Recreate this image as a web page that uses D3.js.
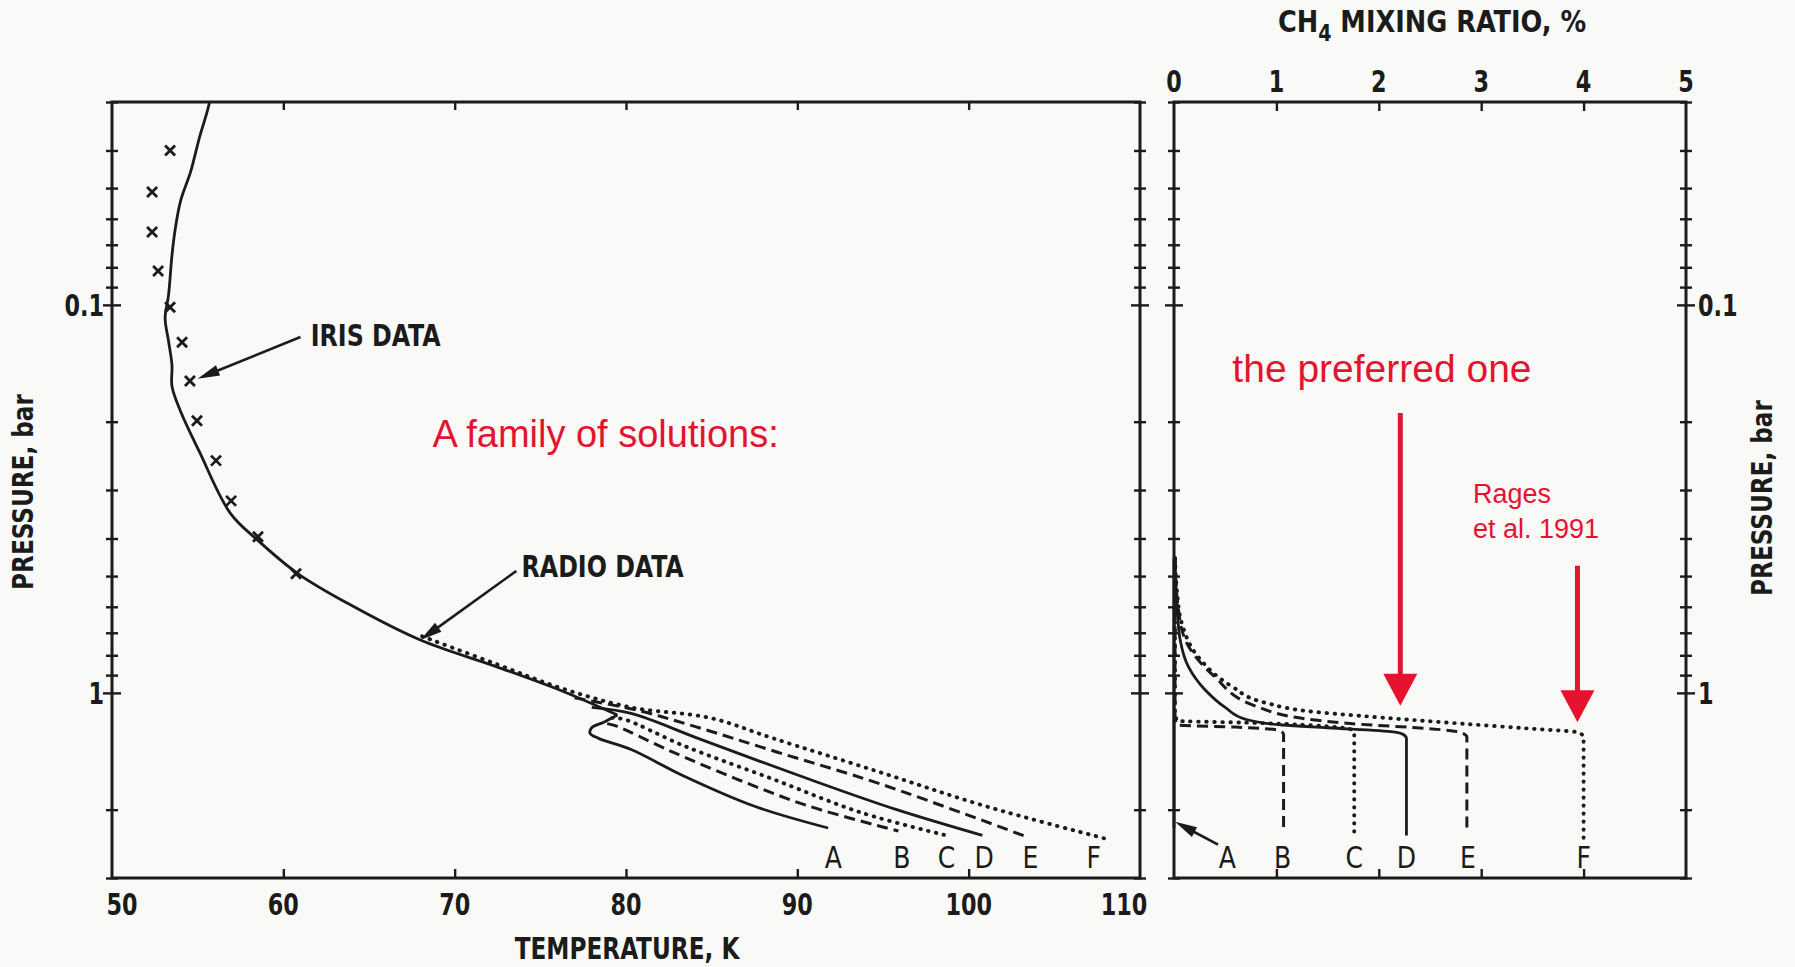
<!DOCTYPE html>
<html>
<head>
<meta charset="utf-8">
<script src="https://cdn.jsdelivr.net/npm/d3@7"></script>
<style>
  html, body { margin: 0; padding: 0; background: #f9f9f7; }
  svg { display: block; }
  .lbl { font-family: "DejaVu Sans Condensed", "DejaVu Sans", sans-serif; fill: #1b1b1b; }
  .red { font-family: "Liberation Sans", Arial, sans-serif; fill: #e5132f; }
  .tick line { stroke: #1b1b1b; stroke-width: 2.4; }
  .domain { display: none; }
</style>
</head>
<body>
<div id="chart"></div>
<script>
// Temperature profile (T in K, pressure in bar) shared by all solutions
const baseProfile = [
  [55.7, 0.030], [55.5, 0.0324], [55.1, 0.0371], [54.6, 0.0452], [54.0, 0.054],
  [53.7, 0.0634], [53.5, 0.0745], [53.3, 0.0944], [53.1, 0.108], [53.3, 0.124],
  [53.5, 0.143], [53.5, 0.162], [54.0, 0.188], [55.1, 0.239], [56.9, 0.344],
  [58.5, 0.404], [60.8, 0.491], [63.7, 0.586], [68.0, 0.731], [72.5, 0.858],
  [76.3, 0.99], [79.5, 1.14]
];

// deep branches of the temperature profiles A-F
const tempA = [[79.5, 1.14], [78.7, 1.19], [78.0, 1.23], [77.9, 1.27], [78.4, 1.31], [80.3, 1.40], [83.4, 1.64], [87.5, 1.96], [91.8, 2.23]];
const tempB = [[78.9, 1.20], [79.5, 1.22], [82.4, 1.40], [86.5, 1.67], [90.7, 1.96], [95.9, 2.27]];
const tempC = [[79.2, 1.16], [79.9, 1.17], [83.4, 1.37], [88.6, 1.67], [93.8, 2.04], [98.7, 2.33]];
const tempD = [[78.0, 1.09], [80.3, 1.13], [84.4, 1.32], [90.7, 1.67], [95.8, 2.00], [100.8, 2.33]];
const tempE = [[77.0, 1.03], [80.7, 1.11], [84.0, 1.22], [88.8, 1.42], [94.9, 1.72], [103.4, 2.35]];
const tempF = [[68.1, 0.715], [72.5, 0.845], [76.3, 0.975], [80.3, 1.09], [84.9, 1.16], [88.6, 1.31], [94.8, 1.60], [101.0, 1.96], [107.9, 2.37]];

// IRIS data points
const irisT = [53.39, 52.34, 52.34, 52.69, 53.39, 54.09, 54.55, 54.96, 56.07, 56.95, 58.52, 60.74];
const irisP = [0.0400, 0.0512, 0.0649, 0.0818, 0.1014, 0.1248, 0.157, 0.199, 0.252, 0.320, 0.396, 0.493];

// CH4 mixing ratio profiles (% , bar)
const mixA = [[0.0, 0.45], [0.0, 2.23]];
const mixB = [[0.01, 0.45], [0.01, 1.15], [0.03, 1.21], [0.6, 1.225], [1.03, 1.25], [1.07, 1.28], [1.07, 2.27]];
const mixC = [[0.01, 0.45], [0.01, 1.12], [0.03, 1.18], [0.8, 1.195], [1.5, 1.22], [1.72, 1.24], [1.76, 1.27], [1.76, 2.33]];
const mixD = [[0.01, 0.45], [0.03, 0.60], [0.06, 0.73], [0.14, 0.856], [0.30, 0.98], [0.50, 1.09], [0.70, 1.17], [1.06, 1.21], [1.5, 1.23], [2.14, 1.26], [2.24, 1.28], [2.27, 1.31], [2.27, 2.33]];
const mixE = [[0.01, 0.45], [0.04, 0.60], [0.11, 0.73], [0.40, 0.91], [0.79, 1.08], [1.38, 1.175], [1.82, 1.205], [2.47, 1.235], [2.80, 1.265], [2.86, 1.30], [2.86, 2.30]];
const mixF = [[0.01, 0.45], [0.03, 0.55], [0.075, 0.66], [0.24, 0.81], [0.56, 0.96], [0.89, 1.06], [1.38, 1.12], [1.80, 1.145], [2.80, 1.20], [3.45, 1.235], [3.95, 1.265], [4.0, 1.30], [4.0, 2.37]];

const curveNames = ['A', 'B', 'C', 'D', 'E', 'F'];
const curveStyles = ['solid', 'dashed', 'dotted', 'solid', 'dashed', 'dotted'];
const tempLabelT = [92.1, 96.1, 98.7, 100.9, 103.6, 107.3];
const mixLabelX = [0.52, 1.06, 1.76, 2.27, 2.87, 4.0];

const tempTicks = [50, 60, 70, 80, 90, 100, 110];
const mixTicks = [0, 1, 2, 3, 4, 5];
const pressureLabels = [0.1, 1];
const pressureMinor = [0.03, 0.04, 0.05, 0.06, 0.07, 0.08, 0.09, 0.2, 0.3, 0.4, 0.5, 0.6, 0.7, 0.8, 0.9, 2, 3];

const width = 1795, height = 967;
const svg = d3.select('#chart').append('svg').attr('width', width).attr('height', height);

// scales
const xT = d3.scaleLinear().domain([50, 110]).range([112, 1140]);
const xM = d3.scaleLinear().domain([0, 5]).range([1174, 1686]);
const yP = d3.scaleLog().domain([0.03, 3]).range([102, 878]);
const yTop = yP.range()[0], yBottom = yP.range()[1];

function styleLine(sel, style) {
  sel.attr('fill', 'none').attr('stroke', '#1b1b1b').attr('stroke-linejoin', 'round');
  if (style === 'solid') sel.attr('stroke-width', 2.8);
  if (style === 'dashed') sel.attr('stroke-width', 3).attr('stroke-dasharray', '11 6');
  if (style === 'dotted') sel.attr('stroke-width', 3.9).attr('stroke-dasharray', '0.5 7.5').attr('stroke-linecap', 'round');
}

// narrow black label (the scan uses a condensed typeface)
function label(x, y, str, size, opt = {}) {
  const t = svg.append('text').attr('class', 'lbl')
    .attr('transform', `translate(${x},${y}) rotate(${opt.rotate || 0}) scale(${opt.sx || 0.84},1)`)
    .attr('text-anchor', opt.anchor || 'start')
    .attr('font-size', size)
    .attr('font-weight', opt.weight || 'bold');
  if (str !== null) t.text(str);
  return t;
}

// pressure axis with ticks crossing the frame line
function pressureAxis(x) {
  const g = svg.append('g');
  g.append('g').attr('transform', `translate(${x},0)`)
    .call(d3.axisLeft(yP).tickValues(pressureMinor).tickSize(6).tickFormat(''));
  g.append('g').attr('transform', `translate(${x},0)`)
    .call(d3.axisRight(yP).tickValues(pressureMinor).tickSize(6).tickFormat(''));
  g.append('g').attr('transform', `translate(${x},0)`)
    .call(d3.axisLeft(yP).tickValues(pressureLabels).tickSize(9).tickFormat(''));
  g.append('g').attr('transform', `translate(${x},0)`)
    .call(d3.axisRight(yP).tickValues(pressureLabels).tickSize(9).tickFormat(''));
}

// ---------- left panel: temperature ----------
pressureAxis(xT.range()[0]);
pressureAxis(xT.range()[1]);

svg.append('g').attr('transform', `translate(0,${yBottom})`)
  .call(d3.axisTop(xT).tickValues(tempTicks.slice(1, -1)).tickSize(9).tickFormat(''));
svg.append('g').attr('transform', `translate(0,${yTop})`)
  .call(d3.axisBottom(xT).tickValues(tempTicks.slice(1, -1)).tickSize(8).tickFormat(''));

svg.append('rect')
  .attr('x', xT.range()[0]).attr('y', yTop)
  .attr('width', xT.range()[1] - xT.range()[0]).attr('height', yBottom - yTop)
  .attr('fill', 'none').attr('stroke', '#1b1b1b').attr('stroke-width', 3);

tempTicks.forEach((d, i) => {
  const off = i === 0 ? 10 : i === tempTicks.length - 1 ? -16 : 0;
  label(xT(d) + off, 915, d, 31, { anchor: 'middle', sx: 0.8 });
});
pressureLabels.forEach(d => label(xT.range()[0] - 8, yP(d) + 11, d, 31, { anchor: 'end', sx: 0.8 }));

const lineT = d3.line().x(d => xT(d[0])).y(d => yP(d[1])).curve(d3.curveCatmullRom.alpha(0.5));
const lineM = d3.line().x(d => xM(d[0])).y(d => yP(d[1])).curve(d3.curveMonotoneY);

svg.append('path').datum(baseProfile).attr('d', lineT).call(styleLine, 'solid');
[tempA, tempB, tempC, tempD, tempE, tempF].forEach((pts, i) => {
  svg.append('path').datum(pts).attr('d', lineT).call(styleLine, curveStyles[i]);
});

// IRIS crosses
const crosses = svg.append('g').attr('stroke', '#1b1b1b').attr('stroke-width', 2.8);
irisT.forEach((t, i) => {
  const cx = xT(t), cy = yP(irisP[i]);
  crosses.append('path').attr('d', `M${cx - 5},${cy - 5}L${cx + 5},${cy + 5}M${cx - 5},${cy + 5}L${cx + 5},${cy - 5}`);
});

curveNames.forEach((d, i) => label(xT(tempLabelT[i]), 868, d, 31, { anchor: 'middle', weight: 'normal', sx: 0.9 }));

// black annotation arrows
function blackArrow(x1, y1, x2, y2) {
  const a = Math.atan2(y2 - y1, x2 - x1), L = 22, W = 5.5;
  svg.append('line').attr('x1', x1).attr('y1', y1)
    .attr('x2', x2 - Math.cos(a) * L * 0.6).attr('y2', y2 - Math.sin(a) * L * 0.6)
    .attr('stroke', '#1b1b1b').attr('stroke-width', 2.6);
  const bx = x2 - Math.cos(a) * L, by = y2 - Math.sin(a) * L;
  svg.append('path')
    .attr('d', `M${x2},${y2}L${bx - Math.sin(a) * W},${by + Math.cos(a) * W}L${bx + Math.sin(a) * W},${by - Math.cos(a) * W}Z`)
    .attr('fill', '#1b1b1b');
}
blackArrow(xT(61.0), yP(0.121), xT(55.0), yP(0.155));
blackArrow(xT(73.6), yP(0.485), xT(68.0), yP(0.731));

label(xT(61.6), yP(0.128), 'IRIS DATA', 30, { sx: 0.88 });
label(xT(73.9), yP(0.502), 'RADIO DATA', 30, { sx: 0.88 });
label(627, 959, 'TEMPERATURE, K', 30, { anchor: 'middle', sx: 0.86 });
label(33, 492, 'PRESSURE, bar', 28, { anchor: 'middle', rotate: -90, sx: 0.92 });

// ---------- right panel: CH4 mixing ratio ----------
pressureAxis(xM.range()[0]);
pressureAxis(xM.range()[1]);

svg.append('g').attr('transform', `translate(0,${yBottom})`)
  .call(d3.axisTop(xM).tickValues(mixTicks.slice(1, -1)).tickSize(9).tickFormat(''));
svg.append('g').attr('transform', `translate(0,${yTop})`)
  .call(d3.axisBottom(xM).tickValues(mixTicks.slice(1, -1)).tickSize(9).tickFormat(''));

svg.append('rect')
  .attr('x', xM.range()[0]).attr('y', yTop)
  .attr('width', xM.range()[1] - xM.range()[0]).attr('height', yBottom - yTop)
  .attr('fill', 'none').attr('stroke', '#1b1b1b').attr('stroke-width', 3);

mixTicks.forEach(d => label(xM(d), 92, d, 31, { anchor: 'middle', sx: 0.8 }));
pressureLabels.forEach(d => label(xM.range()[1] + 12, yP(d) + 11, d, 31, { sx: 0.8 }));

[mixA, mixB, mixC, mixD, mixE, mixF].forEach((pts, i) => {
  svg.append('path').datum(pts).attr('d', lineM).call(styleLine, curveStyles[i]);
});

curveNames.forEach((d, i) => label(xM(mixLabelX[i]), 868, d, 31, { anchor: 'middle', weight: 'normal', sx: 0.9 }));

blackArrow(xM(0.43), yP(2.46), xM(0.01), yP(2.15));

const ch4 = label(1432, 32, null, 31, { anchor: 'middle', sx: 0.92 });
ch4.append('tspan').text('CH');
ch4.append('tspan').attr('dy', 9).attr('font-size', 23).text('4');
ch4.append('tspan').attr('dy', -9).text(' MIXING RATIO, %');

label(1772, 498, 'PRESSURE, bar', 28, { anchor: 'middle', rotate: -90, sx: 0.92 });

// ---------- red annotations ----------
function redArrow(x, p1, p2) {
  const y1 = yP(p1), y2 = yP(p2), X = xM(x);
  svg.append('line').attr('x1', X).attr('y1', y1).attr('x2', X).attr('y2', y2 - 28)
    .attr('stroke', '#e5132f').attr('stroke-width', 5);
  svg.append('path').attr('d', `M${X - 17},${y2 - 32}L${X + 17},${y2 - 32}L${X},${y2}Z`).attr('fill', '#e5132f');
}
redArrow(2.21, 0.19, 1.08);
redArrow(3.94, 0.47, 1.19);

svg.append('text').attr('class', 'red').attr('x', xT(68.7)).attr('y', yP(0.233))
  .attr('font-size', 38).text('A family of solutions:');
svg.append('text').attr('class', 'red').attr('x', xM(0.57)).attr('y', yP(0.158))
  .attr('font-size', 39).text('the preferred one');
svg.append('text').attr('class', 'red').attr('x', xM(2.92)).attr('y', yP(0.324))
  .attr('font-size', 27).text('Rages');
svg.append('text').attr('class', 'red').attr('x', xM(2.92)).attr('y', yP(0.398))
  .attr('font-size', 27).text('et al. 1991');
</script>
</body>
</html>
